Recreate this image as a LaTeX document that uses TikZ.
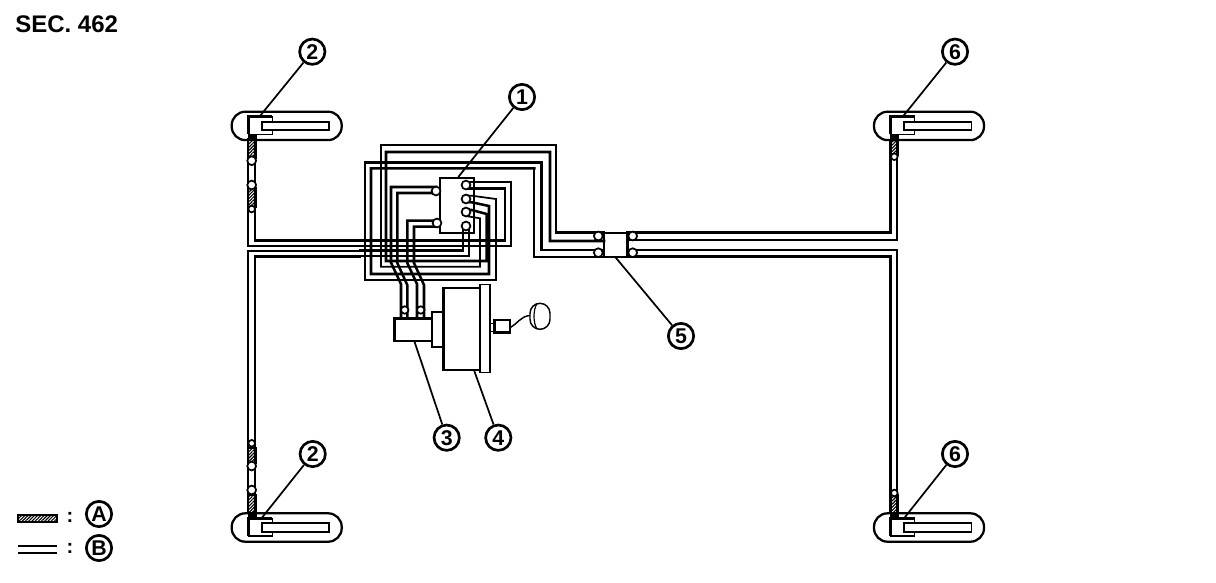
\documentclass[tikz,border=0pt]{standalone}
\usepackage{fontspec}
\setmainfont{Liberation Sans}
\usetikzlibrary{patterns.meta}
\tikzset{
  pipeA/.style={line width=1.9pt,line join=miter,line cap=rect},
  pipeB/.style={line width=1.3pt,line join=miter,line cap=rect},
  part/.style={draw=black,fill=white,line width=1.2pt},
  heavy/.style={draw=black,fill=white,line width=1.8pt},
  port/.style={circle,draw=black,fill=white,line width=1.3pt,inner sep=0pt,minimum size=6.6pt},
  smallport/.style={port,minimum size=5pt},
  callout/.style={circle,draw=black,fill=white,line width=2pt,inner sep=0pt,minimum size=19pt,font=\bfseries\fontsize{16}{16}\selectfont},
  leader/.style={line width=1.3pt},
  hatchfill/.style={draw=black,line width=1.4pt,pattern={Lines[angle=45,distance=1.7pt,line width=.85pt]}}
}
\newcommand{\caliper}[2]{% left x of pill, top y of pill
  \draw[line width=1.7pt,rounded corners=10.2pt,fill=white] (#1,#2) rectangle ++(110,28.4);
  \fill[white] ({#1+16.6},{#2+5}) rectangle ++(24,17.6);
  \draw[line width=1.2pt] ({#1+16.6},{#2+5}) rectangle ++(24,17.6);
  \draw[line width=2.1pt] ({#1+16.6},{#2+22.6}) -- ({#1+16.6},{#2+5}) -- ({#1+40.6},{#2+5});
  \draw[line width=1.3pt,fill=white] ({#1+30},{#2+10}) rectangle ++(67.6,8.4);
}
\begin{document}
\begin{tikzpicture}[x=0.75pt,y=-0.75pt]
\useasboundingbox (0,0) rectangle (1216,582);
\node[anchor=base west,inner sep=0pt,font=\bfseries\fontsize{18}{18}\selectfont] (sec) at (15,32) {SEC. 462};

% valve block and junction block
\draw[line width=1.2pt] (440,178) -- (474,178) -- (474,233) -- (440,233);
\draw[line width=1.9pt,fill=white] (465,178) -- (440,178) -- (440,233) -- (465,233);
\draw[line width=1.2pt] (604,232.7) -- (627.7,232.7) (604,256.7) -- (627.7,256.7);
\draw[line width=2.1pt] (604,232.7) -- (604,256.7) (627.7,232.7) -- (627.7,256.7);

% pipes to the front wheels
\draw[pipeA] (466,182) -- (511,182) -- (511,246) -- (248,246) -- (248,135);
\draw[pipeA] (466,188.3) -- (505,188.3) -- (505,240.7) -- (255,240.7) -- (255,135);
\draw[pipeA] (463,226) -- (463,250.7) -- (360,250.7);
\draw[pipeB] (360,250.7) -- (248,250.7) -- (248,513);
\draw[pipeB] (469,226) -- (469,256.3) -- (360,256.3);
\draw[pipeA] (360,256.3) -- (255,256.3) -- (255,513);
% pipes towards the junction
\draw[pipeB] (466,216) -- (470,216.7) -- (480,218.3) -- (480,266.7) -- (381,266.7) -- (381,145);
\draw[pipeA] (381,145) -- (556,145) -- (556,232.7) -- (604,232.7);
\draw[pipeA] (466,209.5) -- (471.7,210) -- (486.7,214) -- (486.7,261) -- (386,261) -- (386,152) -- (550,152) -- (550,241) -- (604,241);
\draw[pipeB] (466,195.5) -- (471.7,195.7) -- (496,199) -- (496,280) -- (365,280) -- (365,162.3);
\draw[pipeA] (365,162.3) -- (541.7,162.3) -- (541.7,250) -- (604,250);
\draw[pipeA] (466,202) -- (471.7,202.3) -- (489,206) -- (489,274) -- (371,274) -- (371,168.3) -- (534.3,168.3);
\draw[pipeB] (534.3,168.3) -- (534.3,257) -- (604,257);
% pipes to the rear wheels
\draw[pipeA] (627,232.7) -- (890.7,232.7) -- (890.7,135);
\draw[pipeB] (627,240) -- (896.7,240) -- (896.7,135);
\draw[pipeB] (627,250) -- (896.7,250) -- (896.7,513);
\draw[pipeA] (627,256.7) -- (890.7,256.7) -- (890.7,513);
% pipes to the master cylinder
\draw[pipeA] (436,187) -- (391,187) -- (391,262.7) -- (401,284) -- (401,318);
\draw[pipeA] (436,193) -- (397.3,193) -- (397.3,263) -- (407.3,285) -- (407.3,318);
\draw[pipeA] (437,220.7) -- (407.3,220.7) -- (407.3,263) -- (417,284) -- (417,318);
\draw[pipeA] (437,226.7) -- (414,226.7) -- (414,263) -- (424,285) -- (424,318);

% calipers
\caliper{231.7}{111.7}
\caliper{231.7}{513.3}
\caliper{874}{111.7}
\caliper{874}{513.3}

% hatched flexible hoses
\draw[hatchfill] (248,139) rectangle (256.5,158);
\draw[hatchfill] (248,188) rectangle (256.5,207);
\draw[hatchfill] (248,448) rectangle (256.5,463);
\draw[hatchfill] (248,495) rectangle (256.5,513);
\draw[hatchfill] (890.7,140) rectangle (898,155);
\draw[hatchfill] (890.7,495) rectangle (898,513);
\fill (247.5,134.5) rectangle (257,139.5);
\fill (247.5,513) rectangle (257,519);
\fill (890,134.5) rectangle (898.5,140);
\fill (890,513) rectangle (898.5,519);

% hose fittings
\node[port] (hA) at (251.7,160.7) {};
\node[port] (hB) at (251.7,185) {};
\node[smallport] (hC) at (251.7,209) {};
\node[smallport] (hD) at (251.7,443.3) {};
\node[port] (hE) at (251.7,466) {};
\node[port] (hF) at (251.7,490) {};
\node[smallport] (hG) at (894.3,156.7) {};
\node[smallport] (hH) at (894.3,493) {};

% valve ports
\node[port] (p1) at (466,185) {};
\node[port] (p2) at (466,199) {};
\node[port] (p3) at (466,212) {};
\node[port] (p4) at (466,226) {};
\node[port] (p5) at (436,191) {};
\node[port] (p6) at (437,223) {};
% junction ports
\node[port] (j1) at (598.3,236) {};
\node[port] (j2) at (598.3,252.7) {};
\node[port] (j3) at (632.7,236) {};
\node[port] (j4) at (632.7,252.7) {};

% master cylinder, booster, pedal
\draw[heavy] (394.3,318.3) rectangle (431.7,340.7);
\draw[heavy] (431.7,311.7) rectangle (443.3,346.7);
\draw[heavy] (443.3,287.7) rectangle (480,370);
\draw[part] (480,284.3) rectangle (490,372.3);
\draw[part] (490,323.5) rectangle (494.3,331.5);
\draw[heavy] (494.3,320) rectangle (510,332.3);
\draw[line width=1.1pt] (510.7,327.3) .. controls (517,324) and (521,316) .. (530,315.5);
\draw[line width=1.1pt,rounded corners=7.5pt] (530,303.3) rectangle (550,329.3);
\draw[line width=.9pt] (537,303.5) .. controls (533,310) and (533,323) .. (537,329);
\node[smallport,minimum size=5.6pt] (m1) at (404.7,310) {};
\node[smallport,minimum size=5.6pt] (m2) at (420.7,310) {};

% leader ends
\coordinate (e2a) at (260,116);
\coordinate (e2b) at (261.7,518);
\coordinate (e6a) at (903.3,116);
\coordinate (e6b) at (904,518.3);
\coordinate (e1) at (458.3,177);
\coordinate (e5) at (615,256.7);
\coordinate (e3) at (414.3,341);
\coordinate (e4) at (474.3,371);

% callouts
\node[callout] (c2a) at (312.3,51.7) {2};
\node[callout] (c2b) at (312.7,454) {2};
\node[callout] (c6a) at (955,51.7) {6};
\node[callout] (c6b) at (955,454) {6};
\node[callout] (c1) at (522,97) {1};
\node[callout] (c5) at (681,336) {5};
\node[callout] (c3) at (446.7,437.7) {3};
\node[callout] (c4) at (498.3,437.7) {4};
\draw[leader] (c2a) -- (e2a);
\draw[leader] (c2b) -- (e2b);
\draw[leader] (c6a) -- (e6a);
\draw[leader] (c6b) -- (e6b);
\draw[leader] (c1) -- (e1);
\draw[leader] (c5) -- (e5);
\draw[leader] (c3) -- (e3);
\draw[leader] (c4) -- (e4);

% legend
\draw[hatchfill] (18.3,515) rectangle (56.7,522);
\node[inner sep=0pt,font=\bfseries\fontsize{15}{15}\selectfont] (la) at (70,517) {:};
\node[callout] (A) at (99,514) {A};
\draw[line width=1.6pt] (18.3,546) -- (56.7,546);
\draw[line width=1.6pt] (18.3,552.7) -- (56.7,552.7);
\node[inner sep=0pt,font=\bfseries\fontsize{15}{15}\selectfont] (lb) at (70,548) {:};
\node[callout] (B) at (99,548) {B};
\end{tikzpicture}
\end{document}
